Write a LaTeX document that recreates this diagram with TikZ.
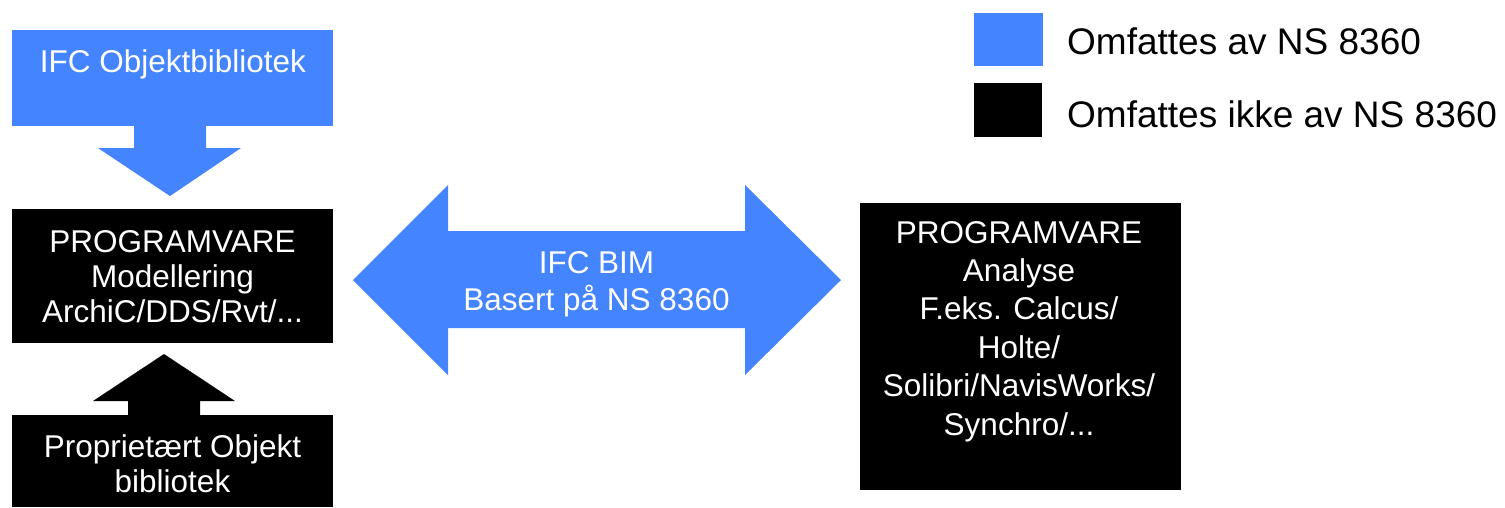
\documentclass[tikz,border=0pt]{standalone}
\usepackage{fontspec}
\setmainfont{Liberation Sans}
\definecolor{nsblue}{RGB}{68,132,255}
\newcommand\mlines[2]{\vtop{\baselineskip=#1pt\lineskiplimit=-100pt\halign{\hfil##\hfil\cr#2\crcr}}}
\tikzset{
  box/.style={rectangle, inner sep=0pt, outer sep=0pt, draw=none},
  bluebox/.style={box, fill=nsblue},
  blackbox/.style={box, fill=black},
  boxtext/.style={anchor=base, inner sep=0pt, text=white, font=\fontsize{31.5}{35}\selectfont},
  legtext/.style={anchor=base west, inner sep=0pt, text=black, font=\fontsize{37}{42}\selectfont},
}
\begin{document}
\begin{tikzpicture}[x=1pt,y=-1pt]
\useasboundingbox (0,0) rectangle (1505,507);
% boxes
\node[bluebox, minimum width=321pt, minimum height=96pt] (ifc) at (172.5,78) {};
\node[blackbox, minimum width=321pt, minimum height=134pt] (mod) at (172.5,276) {};
\node[blackbox, minimum width=321pt, minimum height=92pt] (prop) at (172.5,461) {};
\node[blackbox, minimum width=321pt, minimum height=287pt] (ana) at (1020.5,346.5) {};
% block arrows
\fill[nsblue] (134,125) -- (134,148) -- (98,148) -- (170,196) -- (241,148) -- (206,148) -- (206,125) -- cycle;
\fill[black] (128,416) -- (128,401) -- (93,401) -- (164,354) -- (235,401) -- (200,401) -- (200,416) -- cycle;
\fill[nsblue] (353,280) -- (448,185) -- (448,231) -- (745,231) -- (745,185) -- (841,280)
  -- (745,375) -- (745,328) -- (448,328) -- (448,375) -- cycle;
% texts
\node[boxtext] (ifct) at (173,72) {IFC Objektbibliotek};
\node[boxtext] (modt) at (172.5,252) {\mlines{35}{PROGRAMVARE\cr Modellering\cr ArchiC/DDS/Rvt/...}};
\node[boxtext] (propt) at (172.5,457) {\mlines{35}{Proprietært Objekt\cr bibliotek}};
\node[boxtext] (bimt) at (596.5,273) {\mlines{37}{IFC BIM\cr Basert på NS 8360}};
\node[boxtext] (anat) at (1019,243) {\mlines{38.4}{PROGRAMVARE\cr Analyse\cr F.eks. Calcus/\cr Holte/\cr Solibri/NavisWorks/\cr Synchro/...}};
% legend
\node[bluebox, minimum width=69pt, minimum height=53pt] (legb) at (1008.5,39.5) {};
\node[blackbox, minimum width=68pt, minimum height=54pt] (legk) at (1008,110) {};
\node[legtext] (legbt) at (1067,54) {Omfattes av NS 8360};
\node[legtext] (legkt) at (1067,127) {Omfattes ikke av NS 8360};
\end{tikzpicture}
\end{document}
